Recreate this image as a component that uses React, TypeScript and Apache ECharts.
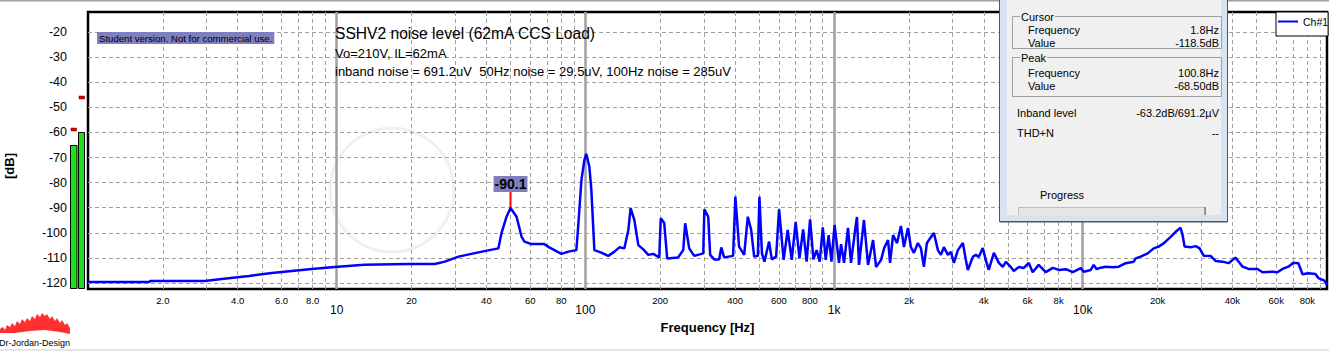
import React, { useEffect, useRef } from "react";
import * as echarts from "echarts";

const FONT = "'Liberation Sans', Arial, sans-serif";

// ---------- spectrum data [frequency Hz, level dB] ----------
const lowBand: [number, number][] = [
  [1, -119.6], [1.76, -119.6], [1.78, -119.2], [2.95, -119.2], [3.45, -118.4], [4.44, -117.2],
  [5.48, -116.0], [6.59, -115.2], [7.94, -114.4], [9.82, -113.6], [12.9, -112.7], [19.4, -112.4],
  [24.8, -112.4], [27.2, -111.5], [30.9, -109.5], [34.8, -108.4], [39.3, -107.3], [44.7, -106.2],
  [46.0, -100.1], [48.2, -93.6], [50, -90.1], [52.9, -93.6], [55.4, -101.6], [56.9, -103.5],
  [60.7, -104.5], [68.4, -104.5], [71.6, -105.8], [80.1, -108.4], [85.5, -107.5], [92.0, -106.9],
  [93.8, -96.1], [96.4, -79.0], [99.1, -71.0], [100.8, -68.5], [103.8, -73.7], [105.7, -82.9],
  [108.7, -106.9],
];

const humBand: [number, number][] = [
  [115.9, -107.9], [123.6, -109.2], [130.6, -107.6], [137, -105.8], [143.5, -106.2], [148.9, -98.9],
  [152, -90.2], [157.4, -94.9], [163.3, -104.9], [171, -106.6], [179.1, -108.8], [187.5, -108.4],
  [198.2, -109.8], [201, -94.2], [207.5, -96.1], [213.3, -110.2], [236, -109.8], [247.5, -106.9],
  [252, -96.2], [261.6, -106.2], [274, -109.2], [297.9, -108.2], [301, -90.6], [311.9, -93.6],
  [317.6, -108.8], [329.6, -110.6], [345.3, -110.6], [352, -105.8], [361.4, -109.8], [392.7, -109.2],
  [401, -85.6], [415, -105.5], [435.1, -108.8], [450, -93.6], [464.3, -98.9], [477.3, -109.5],
  [494, -109.2], [501, -85.6], [513, -108.2], [525, -111.5], [548, -103.5], [562, -110.6],
  [585, -109.5], [601, -90.6], [627, -110.8], [651, -98.9], [676, -110.8], [701, -95.6],
  [726, -110.2], [751, -98.6], [776, -111.5], [801, -94.6], [826, -110.6], [851, -106.9],
  [876, -111.5], [901, -97.8], [926, -110.8], [951, -100.9], [976, -111.5], [1005, -96.9],
];

const midBand: [number, number][] = [
  [1047, -112.0], [1067, -104.5], [1097, -112.0], [1138, -98.0], [1170, -112.0], [1214, -99.3],
  [1236, -93.7], [1260, -112.8], [1319, -94.9], [1370, -112.8], [1435, -102.9], [1476, -113.6],
  [1546, -110.8], [1590, -106.1], [1649, -102.9], [1680, -112.0], [1727, -100.9], [1792, -104.1],
  [1858, -97.3], [1910, -105.7], [1982, -98.1], [2037, -105.7], [2095, -108.0], [2174, -104.1],
  [2235, -106.1], [2298, -113.6], [2362, -104.1], [2407, -102.9], [2521, -100.1], [2616, -106.9],
  [2690, -108.8], [2765, -105.7], [2869, -108.8], [2950, -107.6], [3033, -112.0], [3147, -106.9],
  [3296, -104.1], [3389, -110.8], [3452, -114.8], [3615, -109.6], [3716, -108.8], [3820, -109.6],
  [3963, -106.1], [4074, -110.8], [4188, -114.8], [4392, -108.0], [4600, -112.0], [4771, -113.6],
  [4905, -111.6], [5138, -113.6], [5283, -115.2], [5534, -113.6], [5795, -114.0], [6068, -112.0],
  [6295, -115.7], [6653, -112.8], [7102, -115.7], [7580, -114.0], [8013, -114.8], [8551, -114.5],
  [9126, -115.7], [9821, -114.1],
];

const highBand: [number, number][] = [
  [10093, -115.5], [10770, -114.8], [11072, -112.8], [11383, -114.5], [11803, -113.9], [12359, -113.5],
  [13187, -113.7], [13955, -113.5], [14893, -112.1], [16032, -111.5], [16331, -110.2], [17101, -109.5],
  [18249, -108.2], [19289, -106.2], [20198, -105.5], [21150, -104.2], [22571, -101.6], [23634, -99.6],
  [24748, -98.0], [25210, -100.9], [25680, -105.5], [27159, -105.8], [28439, -105.3], [29512, -106.2],
  [30625, -109.1], [32679, -109.2], [34221, -111.2], [36491, -111.5], [38574, -112.1], [41133, -109.9],
  [43954, -113.5], [46444, -114.4], [50460, -114.4], [52840, -115.7], [57941, -115.5], [60674, -115.7],
  [63534, -114.4], [67131, -113.5], [70297, -111.9], [73612, -112.1], [76528, -116.5], [80860, -116.1],
  [86293, -116.4], [88720, -118.1], [93733, -119.1], [96000, -120.8],
];

const spectrum = [...lowBand, ...humBand, ...midBand, ...highBand];

// ---------- axes ----------
const freqMin = 1;
const freqMax = 96000;
const dbMin = -122.4;
const dbMax = -12;
const yTicks = [-120, -110, -100, -90, -80, -70, -60, -50, -40, -30, -20];
const decadeTicks = [10, 100, 1000, 10000];
const minorGridTicks = [
  2, 3, 4, 5, 6, 7, 8, 9, 20, 30, 40, 50, 60, 70, 80, 90, 200, 300, 400, 500, 600, 700, 800, 900,
  2000, 3000, 4000, 5000, 6000, 7000, 8000, 9000, 20000, 30000, 40000, 50000, 60000, 70000, 80000, 90000,
];
const minorLabelTicks = [2, 4, 6, 8, 20, 40, 60, 80, 200, 400, 600, 800, 2000, 4000, 6000, 8000, 20000, 40000, 60000, 80000];

// ---------- annotations ----------
const peakMarker = { freq: 50, level: -90.1, label: "-90.1" };
const titleLines = [
  "SSHV2 noise level (62mA CCS Load)",
  "Vo=210V, IL=62mA",
  "inband noise = 691.2uV  50Hz noise = 29.5uV, 100Hz noise = 285uV",
];
const cursorRows = [["Frequency", "1.8Hz"], ["Value", "-118.5dB"]];
const peakRows = [["Frequency", "100.8Hz"], ["Value", "-68.50dB"]];
const levelRows = [["Inband level", "-63.2dB/691.2µV"], ["THD+N", "--"]];

function fmtFreq(v: number): string {
  if (v < 10) return v.toFixed(1);
  if (v < 1000) return String(Math.round(v));
  return Math.round(v / 1000) + "k";
}

function buildGraphic(): any[] {
  const g: any[] = [];
  // window frame lines
  g.push({ type: "rect", shape: { x: 0, y: 0, width: 1329, height: 1.5 }, style: { fill: "#a0a0a0" }, z: 50 });
  g.push({ type: "rect", shape: { x: 0, y: 349, width: 1329, height: 2 }, style: { fill: "#e6e6e6" }, z: 50 });
  // faint watermark ring
  g.push({ type: "circle", shape: { cx: 392, cy: 190, r: 62 }, style: { fill: "none", stroke: "#f0f0f0", lineWidth: 3 }, z: -1 });
  // student version label
  g.push({
    type: "text", x: 97, y: 32,
    style: { text: "Student version. Not for commercial use.", font: `9.6px ${FONT}`, fill: "#000", backgroundColor: "#7f7fbf", padding: [1, 2] },
    z: 20,
  });
  // title lines
  g.push({ type: "text", x: 335, y: 33, style: { text: titleLines[0], font: `15.6px ${FONT}`, fill: "#000", verticalAlign: "middle" }, z: 20 });
  g.push({ type: "text", x: 335, y: 53, style: { text: titleLines[1], font: `13px ${FONT}`, fill: "#000", verticalAlign: "middle" }, z: 20 });
  g.push({ type: "text", x: 335, y: 71, style: { text: titleLines[2], font: `13px ${FONT}`, fill: "#000", verticalAlign: "middle" }, z: 20 });
  // y-axis title
  g.push({ type: "text", x: 9, y: 166, rotation: Math.PI / 2, style: { text: "[dB]", font: `bold 13px ${FONT}`, fill: "#000", align: "center", verticalAlign: "middle" }, z: 20 });
  // level meters
  g.push({ type: "rect", shape: { x: 70.5, y: 145.5, width: 6.5, height: 143 }, style: { fill: "#1ee01e", stroke: "#000", lineWidth: 1 }, z: 20 });
  g.push({ type: "rect", shape: { x: 78.5, y: 132.5, width: 6, height: 156 }, style: { fill: "#1ee01e", stroke: "#000", lineWidth: 1 }, z: 20 });
  g.push({ type: "rect", shape: { x: 71, y: 128, width: 5.5, height: 3 }, style: { fill: "#e00000", stroke: "#600000", lineWidth: 0.5 }, z: 20 });
  g.push({ type: "rect", shape: { x: 79, y: 96, width: 5.5, height: 3 }, style: { fill: "#e00000", stroke: "#600000", lineWidth: 0.5 }, z: 20 });
  // logo
  g.push({
    type: "polygon",
    shape: {
      points: [
        [0, 333], [0, 329], [3, 327], [5, 330], [7, 325], [10, 327], [12, 323], [15, 326], [17, 321], [20, 324],
        [22, 319], [25, 322], [27, 318], [30, 321], [32, 316], [35, 319], [37, 314], [40, 317], [42, 313],
        [45, 316], [47, 314], [50, 319], [52, 316], [55, 321], [57, 318], [60, 323], [62, 320], [65, 325],
        [67, 323], [70, 328], [70, 334], [60, 332], [45, 330], [30, 331], [15, 333],
      ],
    },
    style: { fill: "#ff3030" },
    z: 20,
  });
  g.push({ type: "text", x: -1, y: 343, style: { text: "Dr-Jordan-Design", font: `9px ${FONT}`, fill: "#000", verticalAlign: "middle" }, z: 20 });

  // info panel
  const P = 100;
  g.push({ type: "rect", shape: { x: 999.5, y: -2, width: 228, height: 224 }, style: { fill: "#d7e3f1", stroke: "#555", lineWidth: 1 }, z: P });
  g.push({ type: "rect", shape: { x: 1007, y: -2, width: 214, height: 217 }, style: { fill: "#f0f0f0" }, z: P });
  g.push({ type: "rect", shape: { x: 1012.5, y: 16.5, width: 209, height: 32 }, style: { fill: "none", stroke: "#a0a0a0", lineWidth: 1 }, z: P });
  g.push({ type: "rect", shape: { x: 1012.5, y: 57.5, width: 209, height: 39 }, style: { fill: "none", stroke: "#a0a0a0", lineWidth: 1 }, z: P });
  const txt = (text: string, x: number, y: number, align = "left", bg?: string) => ({
    type: "text", x, y,
    style: { text, font: `11px ${FONT}`, fill: "#000", align, verticalAlign: "middle", backgroundColor: bg, padding: bg ? [0, 1] : 0 },
    z: P + 1,
  });
  g.push(txt("Cursor", 1020, 17, "left", "#f0f0f0"));
  cursorRows.forEach((r, i) => { g.push(txt(r[0], 1028, 30 + i * 13)); g.push(txt(r[1], 1219, 30 + i * 13, "right")); });
  g.push(txt("Peak", 1020, 58, "left", "#f0f0f0"));
  peakRows.forEach((r, i) => { g.push(txt(r[0], 1028, 73 + i * 13)); g.push(txt(r[1], 1219, 73 + i * 13, "right")); });
  levelRows.forEach((r, i) => { g.push(txt(r[0], 1017, 113 + i * 20)); g.push(txt(r[1], 1219, 113 + i * 20, "right")); });
  g.push(txt("Progress", 1040, 195));
  g.push({ type: "rect", shape: { x: 1018.5, y: 207.5, width: 187, height: 10 }, style: { fill: "#e6e6e6", stroke: "#bcbcbc", lineWidth: 1 }, z: P });
  g.push({ type: "line", shape: { x1: 1205, y1: 207, x2: 1205, y2: 215 }, style: { stroke: "#555", lineWidth: 1 }, z: P + 1 });
  g.push({ type: "rect", shape: { x: 1007, y: 215, width: 214, height: 7 }, style: { fill: "#d7e3f1" }, z: P + 1 });
  g.push({ type: "line", shape: { x1: 999.5, y1: 221.5, x2: 1227.5, y2: 221.5 }, style: { stroke: "#555", lineWidth: 1 }, z: P + 2 });
  return g;
}

export default function App() {
  const ref = useRef<HTMLDivElement>(null);
  useEffect(() => {
    const chart = echarts.init(ref.current!, null, { renderer: "svg" });
    const dashed = { color: "#a0a0a0", width: 1, type: [4, 3] as any };
    const option: any = {
      animation: false,
      backgroundColor: "#fff",
      textStyle: { fontFamily: FONT },
      grid: { left: 88, right: 2, top: 12, bottom: 62, show: true, borderColor: "#000", borderWidth: 2.5, backgroundColor: "transparent" },
      legend: {
        data: ["Ch#1"], left: 1276, top: 12, padding: [4, 0, 9, 2], itemWidth: 20, itemHeight: 2, icon: "rect",
        borderColor: "#000", borderWidth: 1, backgroundColor: "#fff", itemGap: 0,
        textStyle: { fontSize: 10.5, color: "#000", fontFamily: FONT },
      },
      xAxis: [
        {
          type: "log", logBase: 10, min: freqMin, max: freqMax, position: "bottom",
          name: "Frequency [Hz]", nameLocation: "middle", nameGap: 31,
          nameTextStyle: { fontSize: 13, fontWeight: "bold", color: "#000", fontFamily: FONT },
          axisLine: { show: false },
          axisTick: { show: false, customValues: decadeTicks },
          axisLabel: { customValues: decadeTicks, formatter: (v: number) => fmtFreq(v), fontSize: 12, margin: 15, color: "#000", fontFamily: FONT },
          splitLine: { show: true, lineStyle: { color: "#a0a0a0", width: 2.5 } },
        },
        {
          type: "log", logBase: 10, min: freqMin, max: freqMax, position: "bottom",
          axisLine: { show: false },
          axisTick: { show: false, customValues: minorGridTicks },
          axisLabel: { customValues: minorLabelTicks, formatter: (v: number) => fmtFreq(v), fontSize: 9.5, margin: 6, color: "#000", fontFamily: FONT },
          splitLine: { show: true, lineStyle: dashed },
        },
      ],
      yAxis: {
        type: "value", min: dbMin, max: dbMax,
        axisLine: { show: false },
        axisTick: { show: false, customValues: yTicks },
        axisLabel: { customValues: yTicks, fontSize: 12.5, margin: 21, color: "#000", fontFamily: FONT },
        splitLine: { show: true, lineStyle: dashed },
      },
      series: [
        {
          name: "Ch#1", type: "line", xAxisIndex: 0, data: spectrum, showSymbol: false, symbol: "none",
          lineStyle: { color: "#0000ff", width: 2.5 }, itemStyle: { color: "#0000ff" }, z: 5,
          markPoint: {
            symbol: "rect", symbolSize: [2, 16], symbolOffset: [0, -8], itemStyle: { color: "#ff0000" },
            label: {
              show: true, position: "top", distance: 0, formatter: peakMarker.label, color: "#000",
              fontWeight: "bold", fontSize: 14, fontFamily: FONT, backgroundColor: "#7f7fbf", padding: [1, 1, 0, 1], lineHeight: 15,
            },
            data: [{ coord: [peakMarker.freq, peakMarker.level] }],
          },
        },
      ],
      graphic: buildGraphic(),
    };
    chart.setOption(option);
    return () => chart.dispose();
  }, []);
  return <div ref={ref} style={{ position: "fixed", left: 0, top: 0, width: 1329, height: 351, background: "#fff" }} />;
}
